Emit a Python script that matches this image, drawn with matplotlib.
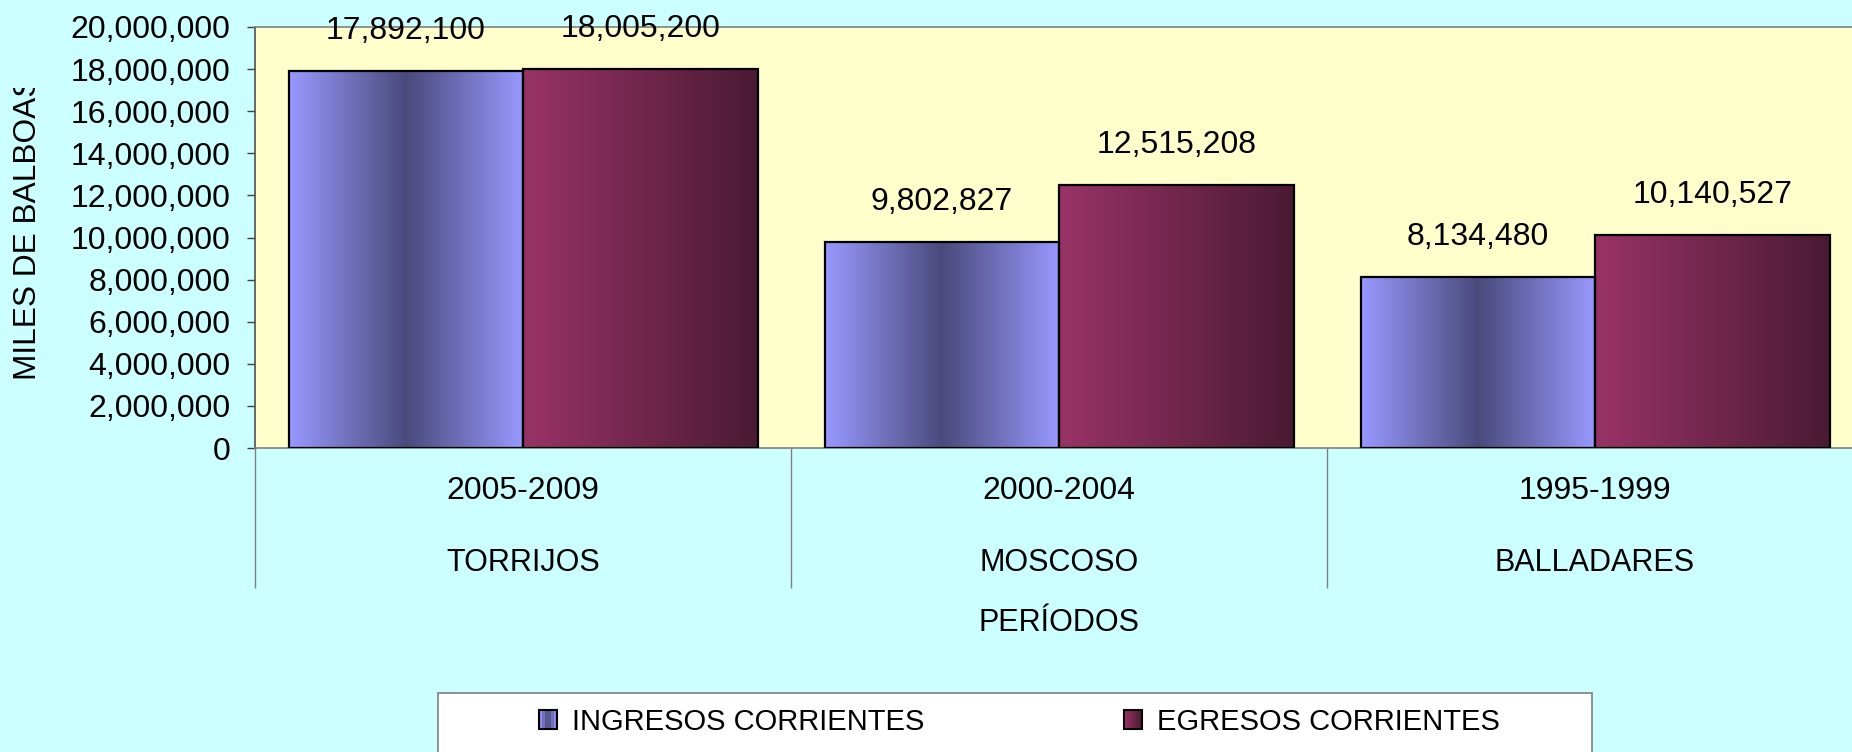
import numpy as np
import matplotlib
matplotlib.use('Agg')
import matplotlib.pyplot as plt
from matplotlib.colors import LinearSegmentedColormap
from matplotlib.patches import Rectangle
from matplotlib.legend_handler import HandlerBase
from matplotlib.transforms import Bbox, TransformedBbox
from matplotlib.ticker import FuncFormatter

# ---------------- data ----------------
periods = ['2005-2009', '2000-2004', '1995-1999']
presidents = ['TORRIJOS', 'MOSCOSO', 'BALLADARES']
ingresos = [17892100, 9802827, 8134480]
egresos = [18005200, 12515208, 10140527]
series_names = ['INGRESOS CORRIENTES', 'EGRESOS CORRIENTES']
y_ticks = list(range(0, 20000001, 2000000))
x_title = 'PERÍODOS'
y_title = 'MILES DE BALBOAS'

plt.rcParams['font.family'] = ['Liberation Sans', 'DejaVu Sans']

W, H = 1852, 752
fig = plt.figure(figsize=(W / 100, H / 100), dpi=100, facecolor='#CCFFFF')


def fx(px):
    return px / W


def fy(py):
    return 1 - py / H


ax_l, ax_r, ax_t, ax_b = 255, 1863, 27, 448
ax = fig.add_axes([fx(ax_l), fy(ax_b), (ax_r - ax_l) / W, (ax_b - ax_t) / H])
ax.set_facecolor('#FFFFCC')

blue_cmap = LinearSegmentedColormap.from_list('b', ['#9999FF', '#4A4A7C', '#9999FF'])
red_cmap = LinearSegmentedColormap.from_list('r', ['#993366', '#4A1A32'])

x = np.arange(len(periods))
bw = 0.4375
b1 = ax.bar(x - bw / 2, ingresos, bw, facecolor='none', edgecolor='black',
            linewidth=1.6, zorder=3)
b2 = ax.bar(x + bw / 2, egresos, bw, facecolor='none', edgecolor='black',
            linewidth=1.6, zorder=3)

grad = np.linspace(0, 1, 256).reshape(1, -1)
for bars, cmap in ((b1, blue_cmap), (b2, red_cmap)):
    for p in bars:
        x0, y0 = p.get_xy()
        w, h = p.get_width(), p.get_height()
        im = ax.imshow(grad, cmap=cmap, extent=[x0, x0 + w, y0, y0 + h],
                       aspect='auto', interpolation='bilinear', zorder=2)
        im.set_clip_path(p)

ax.set_xlim(-0.5, 2.5)
ax.set_ylim(0, 20000000)
ax.set_autoscale_on(False)

for s in ax.spines.values():
    s.set_color('#808080')
    s.set_linewidth(1.2)
ax.spines['left'].set_color('#505050')

ax.set_yticks(y_ticks)
ax.yaxis.set_major_formatter(FuncFormatter(lambda v, p: f'{int(v):,}'))
ax.tick_params(axis='y', length=5.8, width=1, color='#404040', pad=12,
               labelsize=23)

ax.set_xticks(x, labels=periods)
ax.tick_params(axis='x', which='major', length=0, pad=20, labelsize=23)
ax.set_xticks([-0.5, 0.5, 1.5, 2.5], minor=True)
ax.tick_params(axis='x', which='minor', length=100.8, width=1, color='#808080',
               direction='out')

for i, name in enumerate(presidents):
    ax.annotate(name, xy=(i, 0), xycoords=('data', 'axes fraction'),
                xytext=(0, -(563 - 448) * 0.72), textcoords='offset points',
                ha='center', va='center', fontsize=22, annotation_clip=False)

ax.set_xlabel(x_title, fontsize=22)
ax.xaxis.set_label_coords(0.5, -(623 - 448) / (ax_b - ax_t))
ax.xaxis.label.set_va('center')

# value labels
for bars, vals in ((b1, ingresos), (b2, egresos)):
    for p, v in zip(bars, vals):
        ax.annotate(f'{v:,}', xy=(p.get_x() + p.get_width() / 2, v),
                    xytext=(0, 28.8), textcoords='offset points',
                    ha='center', va='center', fontsize=23,
                    annotation_clip=False, zorder=5)

# y title (clipped at the top, as in the original)
yt = fig.text(fx(28.5), fy(380), y_title, rotation=90, ha='center',
              va='bottom', fontsize=22.8)
yt.set_clip_on(True)
yt.set_clip_box(TransformedBbox(Bbox([[0, 0], [0.08, fy(88)]]), fig.transFigure))


# legend
class GradProxy:
    def __init__(self, cmap):
        self.cmap = cmap


class GradHandler(HandlerBase):
    def legend_artist(self, legend, orig_handle, fontsize, handlebox):
        x0, y0 = handlebox.xdescent, handlebox.ydescent
        w, h = handlebox.width, handlebox.height
        n = 6
        tr = handlebox.get_transform()
        for k in range(n):
            r = Rectangle((-x0 + k * w / n, -y0), w / n, h,
                          facecolor=orig_handle.cmap((k + 0.5) / n),
                          edgecolor='none', transform=tr)
            handlebox.add_artist(r)
        outline = Rectangle((-x0, -y0), w, h, facecolor='none',
                            edgecolor='black', lw=1.5, transform=tr)
        handlebox.add_artist(outline)
        return outline


fig.add_artist(Rectangle((fx(438), fy(757)), (1592 - 438) / W, (757 - 693) / H,
                         transform=fig.transFigure, facecolor='white',
                         edgecolor='#808080', lw=1.2, zorder=1))
fig.legend([GradProxy(blue_cmap), GradProxy(red_cmap)], series_names,
           handler_map={GradProxy: GradHandler()},
           loc='center left', bbox_to_anchor=(fx(539), fy(722)), ncol=2,
           frameon=False, fontsize=21, borderpad=0, borderaxespad=0,
           handlelength=0.62, handleheight=0.65, handletextpad=0.51,
           columnspacing=6.85)

fig.savefig('out.png', dpi=100, facecolor=fig.get_facecolor())
